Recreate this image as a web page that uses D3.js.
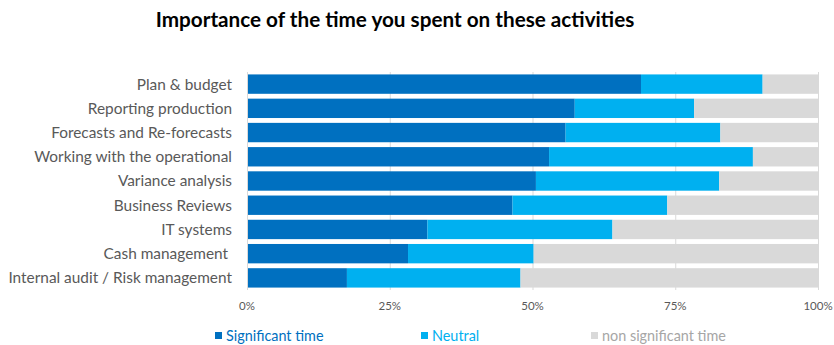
<!DOCTYPE html>
<html>
<head>
<meta charset="utf-8">
<script src="https://cdn.jsdelivr.net/npm/d3@7"></script>
<style>
  body { margin: 0; background: #fff; }
  svg { display: block; font-family: Lato, "Open Sans", sans-serif; }
  text { white-space: pre; }
</style>
</head>
<body>
<svg id="chart" width="834" height="345"></svg>
<script>
const categories = [
    "Plan & budget",
    "Reporting production",
    "Forecasts and Re-forecasts",
    "Working with the operational",
    "Variance analysis",
    "Business Reviews",
    "IT systems",
    "Cash management ",
    "Internal audit / Risk management"
];
const significant = [69.0, 57.4, 55.8, 52.9, 50.6, 46.5, 31.6, 28.2, 17.5];
const neutral = [21.3, 20.9, 27.1, 35.7, 32.1, 27.1, 32.4, 22.0, 30.4];
const nonSignificant = significant.map((s, i) => 100 - s - neutral[i]);
const seriesNames = ["Significant time", "Neutral", "non significant time"];
const tickValues = [0, 25, 50, 75, 100];

const colors = ["#0070C0", "#00B0F0", "#D9D9D9"];
const legendText = ["#0070C0", "#00B0F0", "#A6A6A6"];

const svg = d3.select("#chart");
const margin = {top: 72, left: 247, right: 16, bottom: 55};
const W = 834, H = 345;

const x = d3.scaleLinear()
    .domain([0, 100])
    .range([margin.left, W - margin.right]);
const y = d3.scaleBand()
    .domain(categories)
    .range([margin.top, H - margin.bottom])
    .paddingInner(0.2)
    .paddingOuter(0.1);

// title
svg.append("text")
    .attr("x", 395)
    .attr("y", 27)
    .attr("text-anchor", "middle")
    .attr("font-weight", "bold")
    .attr("font-size", 20.7)
    .attr("fill", "#000")
    .text("Importance of the time you spent on these activities");

// gridlines
svg.append("g")
    .selectAll("line")
    .data(tickValues.slice(1))
    .join("line")
    .attr("x1", d => x(d) + 0.5)
    .attr("x2", d => x(d) + 0.5)
    .attr("y1", margin.top)
    .attr("y2", H - margin.bottom)
    .attr("stroke", "#d9d9d9");

// stacked bars
const rows = categories.map((c, i) => ({
    cat: c,
    s0: significant[i],
    s1: neutral[i],
    s2: nonSignificant[i]
}));
const stack = d3.stack().keys(["s0", "s1", "s2"]);
const layers = stack(rows);

svg.append("g")
    .selectAll("g")
    .data(layers)
    .join("g")
    .attr("fill", (d, i) => colors[i])
    .selectAll("rect")
    .data(d => d)
    .join("rect")
    .attr("x", d => x(d[0]))
    .attr("width", d => x(d[1]) - x(d[0]))
    .attr("y", d => y(d.data.cat))
    .attr("height", y.bandwidth());

// left axis line
svg.append("line")
    .attr("x1", margin.left + 0.5)
    .attr("x2", margin.left + 0.5)
    .attr("y1", margin.top)
    .attr("y2", H - margin.bottom)
    .attr("stroke", "#d9d9d9");

// category labels
svg.append("g")
    .selectAll("text")
    .data(categories)
    .join("text")
    .attr("x", 232)
    .attr("y", d => y(d) + y.bandwidth() / 2)
    .attr("dy", "0.35em")
    .attr("text-anchor", "end")
    .attr("font-size", 15.4)
    .attr("fill", "#595959")
    .text(d => d);

// x tick labels
svg.append("g")
    .selectAll("text")
    .data(tickValues)
    .join("text")
    .attr("x", d => x(d))
    .attr("y", 310)
    .attr("text-anchor", "middle")
    .attr("font-size", 11.5)
    .attr("fill", "#595959")
    .text(d => d + "%");

// legend
const legendX = [215, 421, 591];
const leg = svg.append("g")
    .selectAll("g")
    .data(seriesNames)
    .join("g")
    .attr("transform", (d, i) => `translate(${legendX[i]},336)`);
leg.append("rect")
    .attr("x", 0)
    .attr("y", -4)
    .attr("width", 7)
    .attr("height", 7)
    .attr("fill", (d, i) => colors[i]);
leg.append("text")
    .attr("x", 11)
    .attr("y", 0)
    .attr("dy", "0.35em")
    .attr("font-size", 14.4)
    .attr("fill", (d, i) => legendText[i])
    .text(d => d);
</script>
</body>
</html>
